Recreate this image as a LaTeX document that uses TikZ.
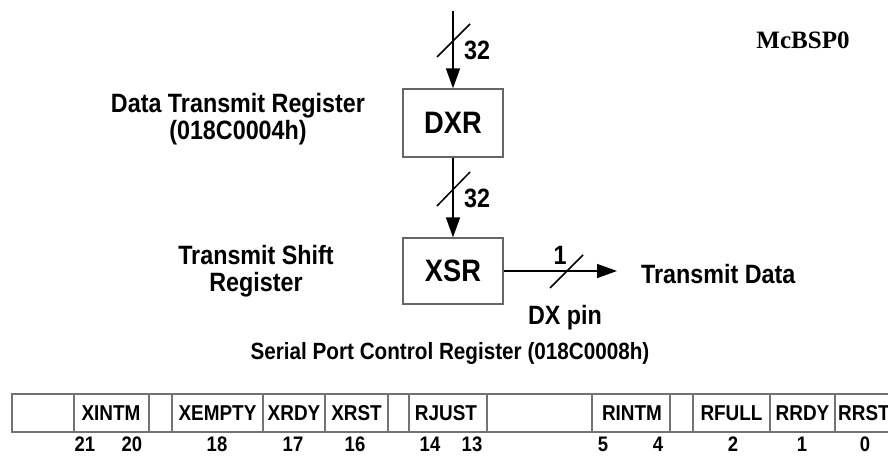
\documentclass[tikz,border=0pt]{standalone}
\usepackage{fontspec}
\setmainfont{Liberation Sans}[FakeStretch=0.88]
\newfontfamily\mcserif{Liberation Serif}
\usetikzlibrary{arrows.meta}
\begin{document}
\begin{tikzpicture}[x=1pt,y=-1pt,
  regbox/.style={draw=black!60,line width=1.3pt,minimum width=100pt,inner sep=0pt,
     font=\fontsize{31}{33}\selectfont\bfseries},
  lbl/.style={align=center,inner sep=0pt,font=\fontsize{26.5}{27}\selectfont\bfseries},
  buslbl/.style={inner sep=0pt,font=\fontsize{26.5}{28}\selectfont\bfseries},
  cell/.style={inner sep=0pt,font=\fontsize{21.5}{23}\selectfont\bfseries},
  bitnum/.style={inner sep=0pt,anchor=base,font=\fontsize{21}{23}\selectfont\bfseries},
  arr/.style={line width=1.5pt,-{Triangle[length=20pt,width=14pt]}},
  slash/.style={line width=1.5pt},
  frame/.style={draw=black!55,line width=1.8pt},
  divider/.style={draw=black!55,line width=1.3pt}]
\useasboundingbox (0,0) rectangle (888,455);

% boxes
\node[regbox,minimum height=68pt] (dxr) at (453,123) {DXR};
\node[regbox,minimum height=66pt] (xsr) at (453,271) {XSR};

% connectors
\coordinate (top) at (453,11);
\coordinate (txend) at (617,271);
\draw[arr] (top) -- (dxr.north);
\draw[arr] (dxr.south) -- (xsr.north);
\draw[arr] (xsr.east) -- (txend);

% bus slashes and widths
\draw[slash] (437,57) -- (470,24);
\node[buslbl] (w1) at (477,50) {32};
\draw[slash] (437,206) -- (470,172);
\node[buslbl] (w2) at (477,198) {32};
\draw[slash] (550,288) -- (583,255);
\node[buslbl] (w3) at (560,255) {1};
\node[lbl] (dxpin) at (565,318) {DX pin};

% labels
\node[lbl] (dxrlbl) at (238,119) {Data Transmit Register\\(018C0004h)};
\node[lbl] (xsrlbl) at (256,271) {Transmit Shift\\Register};
\node[lbl,anchor=west] (txdata) at (641,274) {Transmit Data};
\node[inner sep=0pt,font=\mcserif\fontsize{25}{27}\selectfont\bfseries] (mcbsp) at (803,40) {McBSP0};
\node[inner sep=0pt,font=\fontsize{23.5}{25}\selectfont\bfseries] (title) at (450,353) {Serial Port Control Register (018C0008h)};

% register bar
\draw[frame] (12,394) rectangle (900,432);
\foreach \xx in {74,149,172,263,325,388,409,487,592,670,693,770,835}
  \draw[divider] (\xx,394) -- (\xx,432);

\node[cell] (c1) at (111,413) {XINTM};
\node[cell] (c2) at (217.5,413) {XEMPTY};
\node[cell] (c3) at (294,413) {XRDY};
\node[cell] (c4) at (356.5,413) {XRST};
\node[cell] (c5) at (446,413) {RJUST};
\node[cell] (c6) at (632,413) {RINTM};
\node[cell] (c7) at (731.5,413) {RFULL};
\node[cell] (c8) at (802.5,413) {RRDY};
\node[cell,anchor=west] (c9) at (838,413) {RRST};

\node[bitnum] (b21) at (85,451) {21};
\node[bitnum] (b20) at (132,451) {20};
\node[bitnum] (b18) at (217,451) {18};
\node[bitnum] (b17) at (293,451) {17};
\node[bitnum] (b16) at (355,451) {16};
\node[bitnum] (b14) at (430,451) {14};
\node[bitnum] (b13) at (472,451) {13};
\node[bitnum] (b5) at (603,451) {5};
\node[bitnum] (b4) at (658,451) {4};
\node[bitnum] (b2) at (733,451) {2};
\node[bitnum] (b1) at (802,451) {1};
\node[bitnum] (b0) at (865,451) {0};
\end{tikzpicture}
\end{document}
